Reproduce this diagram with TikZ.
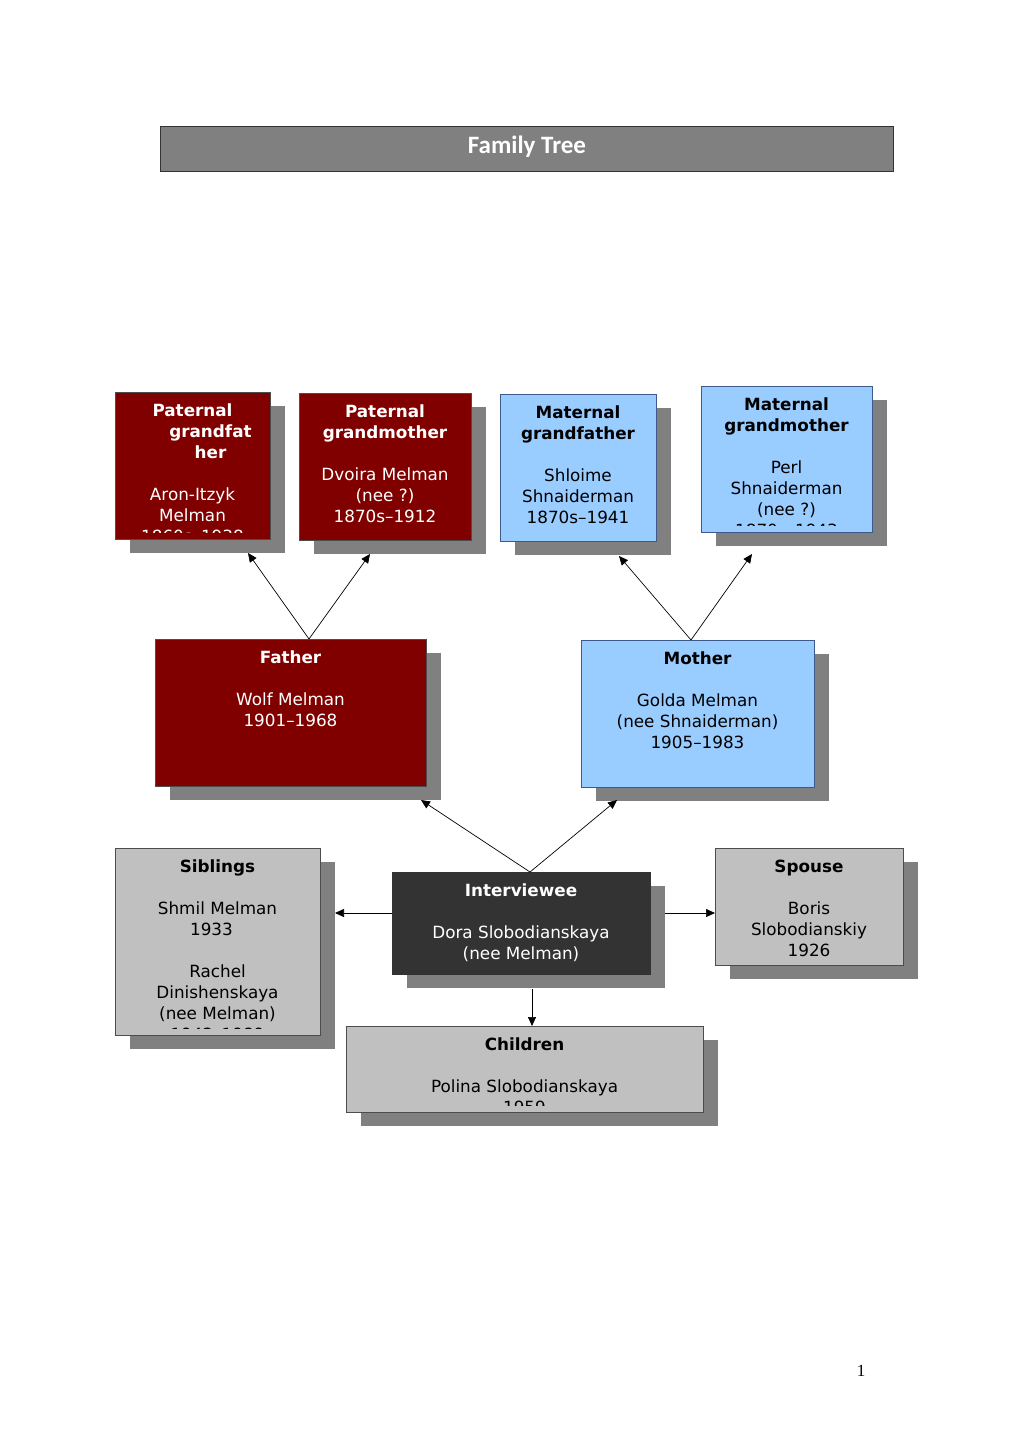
\documentclass[tikz,border=0pt]{standalone}
\usepackage{fontspec}
\setmainfont{DejaVu Sans}
\newfontfamily\titlefont{Carlito}
\newfontfamily\pagefont{Liberation Serif}
\usetikzlibrary{arrows.meta}
\definecolor{boxred}{HTML}{800000}
\definecolor{boxblue}{HTML}{99CCFF}
\definecolor{boxgray}{HTML}{C0C0C0}
\definecolor{boxdark}{HTML}{333333}
\definecolor{shadowgray}{HTML}{808080}
\definecolor{blueedge}{HTML}{3C5A8C}
\tikzset{
  boxshape/.style={line width=0.9pt, inner sep=0pt, outer sep=0pt, anchor=north west},
  boxtext/.style={anchor=north, align=center, inner sep=0pt, font=\fontsize{16.8}{21}\selectfont},
  conn/.style={line width=0.7pt, -{Triangle[length=9pt,width=8pt]}},
}
\newcommand\fambox[9]{%
  \fill[shadowgray] ({#2+15},{#3+14}) rectangle ({#4+15},{#5+14});
  \node[boxshape, draw=#7, fill=#6, minimum width={(#4-#2)*1pt}, minimum height={(#5-#3)*1pt}] (#1) at (#2,#3) {};
  \begin{scope}
    \clip (#2,#3) rectangle (#4,{#5-7});
    \node[boxtext, text=#8] (#1-text) at ({(#2+#4)/2},{#3+12}) {#9};
  \end{scope}}
\begin{document}
\begin{tikzpicture}[x=1pt,y=-1pt]
\useasboundingbox (0,0) rectangle (1020,1443);
% title
\node[boxshape, draw=black!80, fill=shadowgray, minimum width=733pt, minimum height=45pt] (titlebar) at (160,126) {};
\node[text=white, font=\titlefont\bfseries\fontsize{25}{28}\selectfont] (title) at (527,147) {Family Tree};
% grandparents
\fambox{pgf}{115}{392}{270}{539}{boxred}{black!70}{white}{\textbf{Paternal}\\\hspace*{36pt}\textbf{grandfat}\\\hspace*{36pt}\textbf{her}\\[21pt]Aron-Itzyk\\Melman\\1860s--1938}
\fambox{pgm}{299}{393}{471}{540}{boxred}{black!70}{white}{\textbf{Paternal}\\\textbf{grandmother}\\[21pt]Dvoira Melman\\(nee ?)\\1870s--1912}
\fambox{mgf}{500}{394}{656}{541}{boxblue}{blueedge}{black}{\textbf{Maternal}\\\textbf{grandfather}\\[21pt]Shloime\\Shnaiderman\\1870s--1941}
\fambox{mgm}{701}{386}{872}{532}{boxblue}{blueedge}{black}{\textbf{Maternal}\\\textbf{grandmother}\\[21pt]Perl\\Shnaiderman\\(nee ?)\\1870s--1943}
% parents
\fambox{father}{155}{639}{426}{786}{boxred}{black!70}{white}{\textbf{Father}\\[21pt]Wolf Melman\\1901--1968}
\fambox{mother}{581}{640}{814}{787}{boxblue}{blueedge}{black}{\textbf{Mother}\\[21pt]Golda Melman\\(nee Shnaiderman)\\1905--1983}
% generation of interviewee
\fambox{siblings}{115}{848}{320}{1035}{boxgray}{black!70}{black}{\textbf{Siblings}\\[21pt]Shmil Melman\\1933\rule{12pt}{0pt}\\[21pt]Rachel\\Dinishenskaya\\(nee Melman)\\1942--1989}
\fambox{interviewee}{392}{872}{650}{974}{boxdark}{black!80}{white}{\textbf{Interviewee}\\[21pt]Dora Slobodianskaya\\(nee Melman)}
\fambox{spouse}{715}{848}{903}{965}{boxgray}{black!70}{black}{\textbf{Spouse}\\[21pt]Boris\\Slobodianskiy\\1926}
\fambox{children}{346}{1026}{703}{1112}{boxgray}{black!70}{black}{\textbf{Children}\\[21pt]Polina Slobodianskaya\\1959}
% connector points
\coordinate (fa-apex) at (309,639);
\coordinate (pgf-tip) at (248,553);
\coordinate (pgm-tip) at (370,554);
\coordinate (mo-apex) at (691,640);
\coordinate (mgf-tip) at (619,556);
\coordinate (mgm-tip) at (752,554);
\coordinate (iv-apex) at (530,872);
\coordinate (fa-tip) at (421,800);
\coordinate (mo-tip) at (617,800);
\coordinate (iv-left) at (392,913);
\coordinate (sib-tip) at (335,913);
\coordinate (iv-right) at (665,913);
\coordinate (sp-tip) at (715,913);
\coordinate (iv-bottom) at (532,989);
\coordinate (ch-tip) at (532,1026);
\draw[conn] (fa-apex) -- (pgf-tip);
\draw[conn] (fa-apex) -- (pgm-tip);
\draw[conn] (mo-apex) -- (mgf-tip);
\draw[conn] (mo-apex) -- (mgm-tip);
\draw[conn] (iv-apex) -- (fa-tip);
\draw[conn] (iv-apex) -- (mo-tip);
\draw[conn] (iv-left) -- (sib-tip);
\draw[conn] (iv-right) -- (sp-tip);
\draw[conn] (iv-bottom) -- (ch-tip);
% page number
\node[font=\pagefont\fontsize{17}{20}\selectfont] (pagenum) at (861,1371) {1};
\end{tikzpicture}
\end{document}
